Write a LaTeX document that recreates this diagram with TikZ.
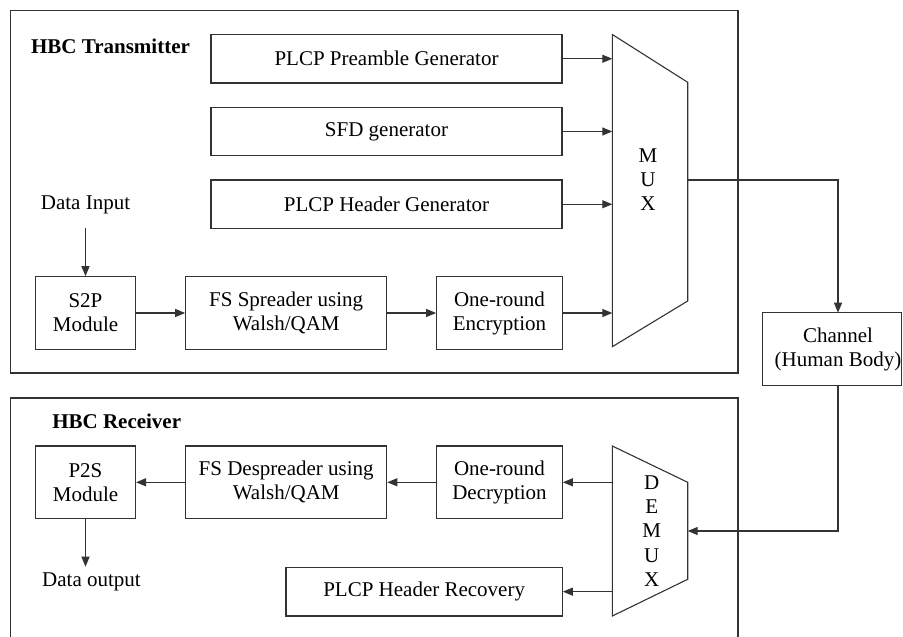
\documentclass[tikz,border=0pt]{standalone}
\usepackage{fontspec}
\setmainfont{Liberation Serif}
\usetikzlibrary{arrows.meta}
\begin{document}
\begin{tikzpicture}[x=1pt,y=-1pt,
  every node/.style={font=\fontsize{21}{24}\selectfont, inner sep=0pt, align=center},
  blk/.style={draw=black!80, line width=1.1pt, rectangle},
  ln/.style={draw=black!80, line width=1.1pt},
  arr/.style={ln, -{Triangle[length=10pt,width=8pt]}},
  ttl/.style={font=\fontsize{21}{24}\selectfont\bfseries}]
\useasboundingbox (0,0) rectangle (903,637);
\fill[white] (0,0) rectangle (903,637);
% frames
\draw[ln] (10.5,10.5) rectangle (738,373);
\draw[ln] (10.5,637) -- (10.5,398) -- (738,398) -- (738,637);
\node[ttl] (tx) at (110.5,46.3) {HBC Transmitter};
\node[ttl] (rx) at (116.7,421.7) {HBC Receiver};
% transmitter blocks
\node[blk, minimum width=351pt, minimum height=48.5pt] (pre) at (386.5,58.75) {PLCP Preamble Generator};
\node[blk, minimum width=351pt, minimum height=48pt] (sfd) at (386.5,131.5) {SFD generator};
\node[blk, minimum width=351pt, minimum height=48.5pt] (hdr) at (386.5,204.25) {PLCP Header Generator};
\node[blk, minimum width=100pt, minimum height=72.6pt] (s2p) at (85.5,313) {S2P\\Module};
\node[blk, minimum width=201pt, minimum height=72.6pt] (fss) at (286.2,313) {FS Spreader using\\Walsh/QAM};
\node[blk, minimum width=125.6pt, minimum height=72.6pt] (enc) at (499.5,313) {One-round\\Encryption};
% MUX
\draw[ln] (612.3,34.5) -- (687.7,82.3) -- (687.7,301) -- (612.3,346.7) -- cycle;
\node (muxt) at (648,180) {M\\U\\X};
\coordinate (muxL) at (612.3,180);
\coordinate (muxout) at (687.7,180);
\node (din) at (85.5,205) {Data Input};
\coordinate (dinA) at (85.5,228);
\draw[arr] (dinA) -- (s2p.north);
\draw[arr] (s2p.east) -- (fss.west);
\draw[arr] (fss.east) -- (enc.west);
\draw[arr] (pre.east) -- (pre.east -| muxL);
\draw[arr] (sfd.east) -- (sfd.east -| muxL);
\draw[arr] (hdr.east) -- (hdr.east -| muxL);
\draw[arr] (enc.east) -- (enc.east -| muxL);
% channel
\node[blk, minimum width=139pt, minimum height=72.6pt] (chan) at (832.2,349) {};
\node (chant) at (838,349) {Channel\\(Human Body)};
\coordinate (chanin) at (838,312.7);
\coordinate (chanout) at (838,385.3);
\draw[arr] (muxout) -| (chanin);
% receiver blocks
\node[blk, minimum width=100pt, minimum height=72.6pt] (p2s) at (85.5,482.3) {P2S\\Module};
\node[blk, minimum width=201pt, minimum height=72.6pt] (fsd) at (286.2,482.3) {FS Despreader using\\Walsh/QAM};
\node[blk, minimum width=125.6pt, minimum height=72.6pt] (dec) at (499.5,482.3) {One-round\\Decryption};
\node[blk, minimum width=276.3pt, minimum height=48.7pt] (rec) at (424.15,591.65) {PLCP Header Recovery};
% DEMUX
\draw[ln] (612.3,446) -- (687.7,482.3) -- (687.7,579.3) -- (612.3,616) -- cycle;
\node[font=\fontsize{21}{24.4}\selectfont] (demuxt) at (651.7,531) {D\\E\\M\\U\\X};
\coordinate (dmxL) at (612.3,531);
\coordinate (dmxin) at (687.7,531);
\draw[arr] (chanout) |- (dmxin);
\draw[arr] (dec.east -| dmxL) -- (dec.east);
\draw[arr] (rec.east -| dmxL) -- (rec.east);
\draw[arr] (dec.west) -- (fsd.east);
\draw[arr] (fsd.west) -- (p2s.east);
\coordinate (doutA) at (85.5,566.7);
\draw[arr] (p2s.south) -- (doutA);
\node (dout) at (91.5,582) {Data output};
\end{tikzpicture}
\end{document}
